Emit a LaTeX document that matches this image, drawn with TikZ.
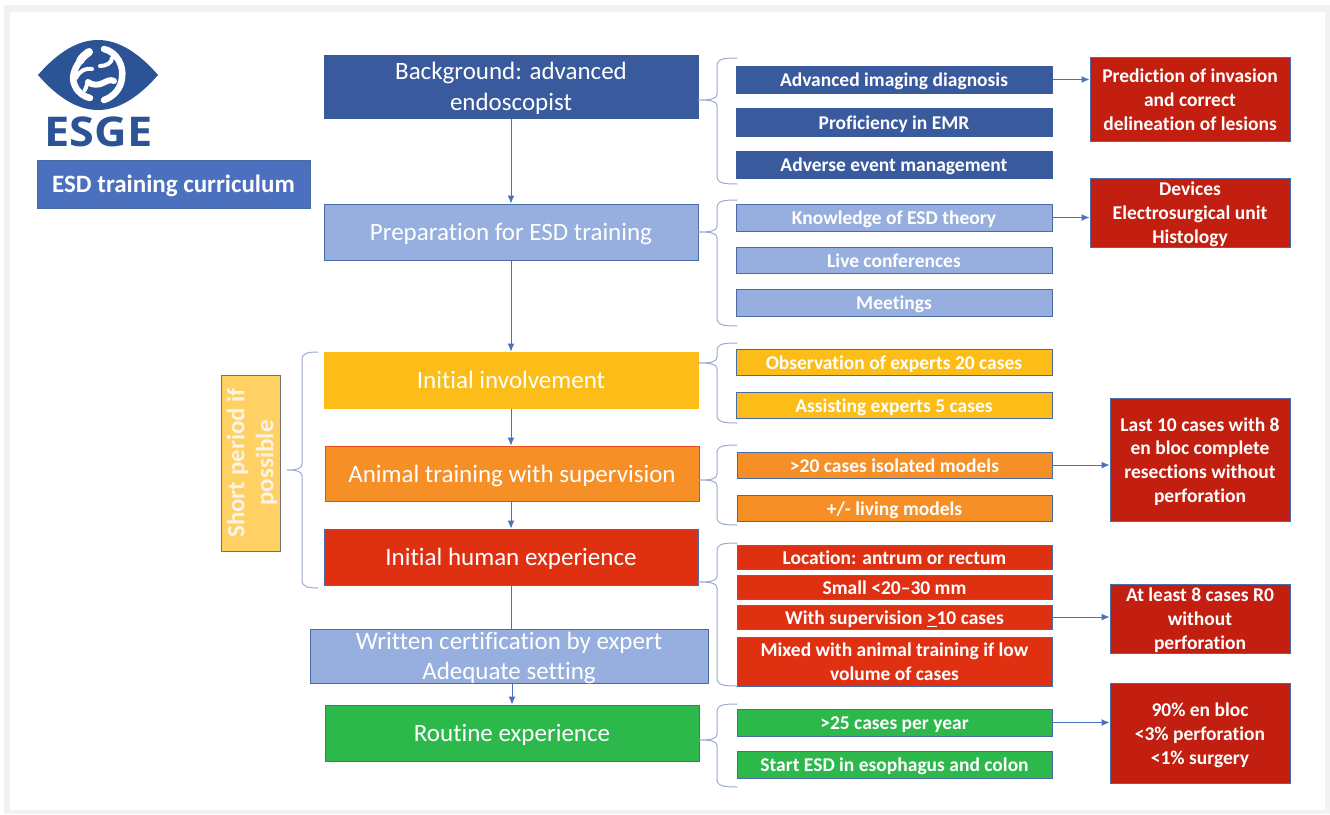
\documentclass[tikz,border=0pt]{standalone}
\usepackage{fontspec}
\setmainfont[Ligatures={NoCommon}]{Carlito}
\newfontfamily\heavyfont{Open Sans}
\usetikzlibrary{arrows.meta}
\definecolor{edgeblue}{HTML}{4A6AA8}
\definecolor{brc}{HTML}{9AAAD2}
\definecolor{arrowblue}{HTML}{4A70BE}
\definecolor{darkblue}{HTML}{3A5A9E}
\definecolor{midblue}{HTML}{4A70BE}
\definecolor{lightblue}{HTML}{97AFDF}
\definecolor{amber}{HTML}{FDBD19}
\definecolor{orangeb}{HTML}{F58F26}
\definecolor{redb}{HTML}{E03012}
\definecolor{greenb}{HTML}{2DB84C}
\definecolor{darkred}{HTML}{C21F10}
\definecolor{paleamber}{HTML}{FFD164}
\definecolor{logoblue}{HTML}{2B5396}
\definecolor{softwhite}{HTML}{FBF3E8}
\tikzset{
  x=1pt,y=-1pt,
  basebox/.style={rectangle,inner sep=0pt,line width=1pt,align=center,text=white},
  mainbox/.style={basebox,font=\fontsize{25}{30.5}\selectfont},
  midbox/.style={basebox,font=\fontsize{19.5}{24}\selectfont\bfseries},
  outbox/.style={basebox,font=\fontsize{19.5}{23.8}\selectfont\bfseries,fill=darkred,draw=edgeblue},
  flow/.style={draw=arrowblue,line width=1pt,-{Latex[length=8pt,width=7pt]}},
  plain/.style={draw=arrowblue,line width=1pt},
  brc/.style={draw=brc,line width=1pt,line cap=round},
  gut/.style={draw=white,line cap=round,line join=round},
}
% name, x0, y0, x1, y1, style, text (lines set in a tabular, lowered 2.5px;
% its reported size is trimmed equally at both ends so the box keeps its given height)
\newcommand{\rbox}[7]{%
  \node[#6,minimum width=#4pt-#2pt,minimum height=#5pt-#3pt] (#1) at ({(#2+#4)/2},{(#3+#5)/2})
    {\raisebox{-2.5pt}[\dimexpr\height-6pt\relax][\dimexpr\depth-6pt\relax]{\begin{tabular}{@{}c@{}}#7\end{tabular}}};}
% source coordinate name, tip x, spine x, end x, top y, tip y, bottom y
\newcommand{\brcshape}[7]{%
  \coordinate (#1) at (#2,#6);
  \draw[brc] (#4,#5) .. controls (#3+6,#5) and (#3,#5+1) .. (#3,#5+8)
    -- (#3,#6-6) .. controls (#3,#6-1) and (#3-6,#6) .. (#1)
    (#1) .. controls (#3-6,#6) and (#3,#6+1) .. (#3,#6+6)
    -- (#3,#7-8) .. controls (#3,#7-1) and (#3+6,#7) .. (#4,#7);}
\begin{document}
\begin{tikzpicture}
\useasboundingbox (0,0) rectangle (1330,814);
\fill[white] (0,0) rectangle (1330,814);
\fill[black!5] (4,5) rectangle (1330,814);
\fill[white] (10,12) rectangle (1325,810);

% logo
\fill[logoblue] (38,75) .. controls (58,52) and (78,40) .. (98,40)
  .. controls (118,40) and (138,52) .. (158,75)
  .. controls (138,98) and (118,110) .. (98,110)
  .. controls (78,110) and (58,98) .. (38,75) -- cycle;
\draw[gut,line width=8pt] (89,52) .. controls (85,55) and (82,57) .. (80,61);
\draw[gut,line width=6.5pt] (80,61) .. controls (74,69) and (71,78) .. (75,86) .. controls (78,93) and (85,97) .. (90,98);
\draw[gut,line width=6.5pt] (104,49) .. controls (117,52) and (124,66) .. (122,78) .. controls (121,89) and (113,97) .. (104,100);
\draw[gut,line width=6pt] (88,82) .. controls (93,86) and (99,85) .. (103,83) .. controls (107,81) and (111,79) .. (114,81);
\draw[gut,line width=4pt] (88,82) -- (85,90);
\draw[gut,line width=4pt] (76,78) .. controls (80,70) and (86,68) .. (92,69);
\draw[gut,line width=4pt] (100,66) .. controls (106,66) and (112,63) .. (112,58);
\node[inner sep=0pt,text=logoblue,xscale=1.1,font=\fontsize{41}{41}\selectfont\heavyfont\bfseries] (esge) at (98.5,132) {ESGE};

\rbox{curr}{37}{160}{310}{208}{basebox,fill=midblue,draw=edgeblue,font=\fontsize{25}{30}\selectfont\bfseries}{ESD training curriculum}
\rbox{short}{221}{375}{280}{551}{basebox,fill=paleamber,draw=black!55}{}
\node[rotate=90,align=center,text=softwhite,font=\fontsize{25}{29}\selectfont\bfseries] (shorttext) at (252,463) {Short period if\\possible};

% main column
\rbox{bg}{324}{55}{698}{118}{mainbox,fill=darkblue,draw=darkblue}{Background: advanced\\endoscopist}
\rbox{prep}{324}{204}{698}{260}{mainbox,fill=lightblue,draw=edgeblue}{Preparation for ESD training}
\rbox{inv}{324}{352}{698}{408}{mainbox,fill=amber,draw=amber}{Initial involvement}
\rbox{animal}{325}{446}{699}{501}{mainbox,fill=orangeb,draw=redb!70!orangeb}{Animal training with supervision}
\rbox{human}{324}{529}{698}{585}{mainbox,fill=redb,draw=edgeblue}{Initial human experience}
\rbox{cert}{310}{629}{708}{683}{mainbox,fill=lightblue,draw=edgeblue}{Written certification by expert\\Adequate setting}
\rbox{routine}{325}{705}{699}{761}{mainbox,fill=greenb,draw=edgeblue}{Routine experience}

% middle column
\rbox{m1}{736}{66}{1052}{93}{midbox,fill=darkblue,draw=darkblue}{Advanced imaging diagnosis}
\rbox{m2}{736}{108.5}{1052}{136}{midbox,fill=darkblue,draw=darkblue}{Proficiency in EMR}
\rbox{m3}{736}{151}{1052}{178}{midbox,fill=darkblue,draw=darkblue}{Adverse event management}
\rbox{m4}{736}{204}{1052}{231}{midbox,fill=lightblue,draw=edgeblue}{Knowledge of ESD theory}
\rbox{m5}{736}{247}{1052}{273}{midbox,fill=lightblue,draw=edgeblue}{Live conferences}
\rbox{m6}{736}{289}{1052}{316}{midbox,fill=lightblue,draw=edgeblue}{Meetings}
\rbox{m7}{736}{349}{1052}{375}{midbox,fill=amber,draw=edgeblue}{Observation of experts 20 cases}
\rbox{m8}{736}{392}{1052}{418}{midbox,fill=amber,draw=edgeblue}{Assisting experts 5 cases}
\rbox{m9}{737}{452}{1052}{478}{midbox,fill=orangeb,draw=edgeblue}{>20 cases isolated models}
\rbox{m10}{737}{495}{1052}{521}{midbox,fill=orangeb,draw=edgeblue}{+/- living models}
\rbox{m11}{737}{545}{1052}{569}{midbox,fill=redb,draw=edgeblue}{Location: antrum or rectum}
\rbox{m12}{737}{575}{1052}{599}{midbox,fill=redb,draw=edgeblue}{Small <20–30 mm}
\rbox{m13}{737}{605}{1052}{629}{midbox,fill=redb,draw=edgeblue}{With supervision \underline{>}10 cases}
\rbox{m14}{737}{637}{1052}{686}{midbox,fill=redb,draw=edgeblue}{Mixed with animal training if low\\volume of cases}
\rbox{m15}{737}{709}{1052}{736}{midbox,fill=greenb,draw=edgeblue}{>25 cases per year}
\rbox{m16}{737}{751}{1052}{778}{midbox,fill=greenb,draw=edgeblue}{Start ESD in esophagus and colon}

% right column
\rbox{r1}{1090}{57}{1290}{141}{outbox}{Prediction of invasion\\and correct\\delineation of lesions}
\rbox{r2}{1090}{178}{1290}{247}{outbox}{Devices\\Electrosurgical unit\\Histology}
\rbox{r3}{1110}{398}{1290}{521}{outbox}{Last 10 cases with 8\\en bloc complete\\resections without\\perforation}
\rbox{r4}{1110}{584}{1290}{653}{outbox}{At least 8 cases R0\\without\\perforation}
\rbox{r5}{1110}{683}{1290}{783}{outbox}{90\% en bloc\\<3\% perforation\\<1\% surgery}

% vertical connectors
\draw[flow] (bg.south) -- (prep.north);
\draw[flow] (prep.south) -- (inv.north);
\draw[flow] (inv.south) -- (inv.south |- animal.north);
\draw[flow] (animal.south -| human.south) -- (human.north);
\draw[plain] (human.south) -- (human.south |- cert.north);
\draw[flow] (cert.south -| routine.north) -- (routine.north);

% horizontal connectors
\draw[flow] (m1.east) -- (m1.east -| r1.west);
\draw[flow] (m4.east) -- (m4.east -| r2.west);
\draw[flow] (m9.east) -- (m9.east -| r3.west);
\draw[flow] (m13.east) -- (m13.east -| r4.west);
\draw[flow] (m15.east) -- (m15.east -| r5.west);

% braces
\brcshape{b1}{698}{717}{737}{58}{100}{184}
\brcshape{b2}{698}{717}{737}{200}{232}{326}
\brcshape{b3}{698}{717}{737}{343}{363}{423}
\brcshape{b4}{699}{717}{737}{445}{480}{525}
\brcshape{b5}{698}{717}{737}{543}{582}{686}
\brcshape{b6}{699}{717}{737}{704}{740}{787}
\brcshape{b7}{287}{302}{318}{352}{470}{588}
\end{tikzpicture}
\end{document}
